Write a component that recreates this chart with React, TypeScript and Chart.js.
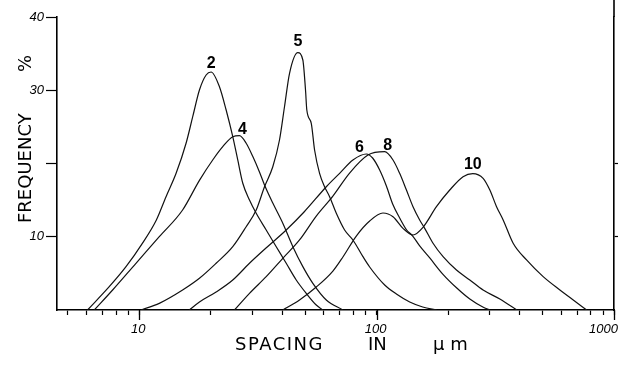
import React, { useEffect, useRef } from 'react';
import { Chart, registerables } from 'chart.js';

Chart.register(...registerables);

// ---- data (spacing in µm, frequency in %) ----
const X2 = [6.05, 7.47, 8.79, 10.3, 11.8, 12.96, 14.29, 15.74, 16.79, 17.92, 19.12, 20.07, 21.76, 23.22, 24.76, 25.99, 27.29, 29.12, 31.08, 34.25, 37.75, 41.59, 45.83, 50.5, 55.66, 59.35];
const Y2 = [0, 3.18, 5.91, 9.1, 12.29, 15.47, 18.66, 22.76, 26.39, 30.03, 32.08, 32.49, 30.48, 27.3, 23.66, 20.48, 17.3, 15.02, 13.2, 10.92, 8.64, 6.38, 4.1, 2.28, 0.68, 0];

const X4 = [6.46, 7.72, 9.68, 12.14, 15.22, 17.92, 20.38, 22.47, 24.76, 26.42, 28.2, 30.08, 32.08, 33.69, 36.51, 40.23, 44.35, 48.87, 53.85, 61.35, 72.08];
const Y4 = [0, 2.73, 6.37, 10.01, 13.65, 17.7, 20.48, 22.3, 23.66, 23.8, 22.76, 20.94, 18.84, 17.07, 14.6, 11.84, 8.65, 5.92, 3.64, 1.37, 0];

const X5 = [10.17, 12.14, 15.22, 17.92, 21.07, 24.76, 28.2, 31.08, 33.69, 36.51, 38.96, 40.9, 42.95, 46.55, 48.87, 50.15, 50.79, 53.03, 54.76, 57.48, 60.34, 63.35, 67.61, 73.28, 79.43, 87.55, 93.44, 108.1, 121.1, 137.8, 156.3, 179.2];
const Y5 = [0, 0.91, 2.73, 4.33, 6.38, 8.64, 11.37, 13.65, 16.83, 19.56, 23.21, 27.75, 32.31, 35.13, 34.13, 30.03, 27.3, 25.49, 21.84, 18.66, 16.83, 15.47, 13.2, 10.92, 9.56, 7.28, 5.87, 3.41, 2.18, 1.09, 0.41, 0];

const X6 = [16.25, 17.92, 21.07, 24.76, 29.12, 34.68, 41.59, 49.67, 61.35, 69.82, 79.43, 90.47, 96.18, 102.97, 109.9, 116.8, 125.0, 133.8, 141.9, 151.8, 167.4, 189.9, 217.6, 246.9, 280.1, 299.9];
const Y6 = [0, 1.09, 2.46, 4.1, 6.38, 8.64, 10.92, 13.45, 16.83, 18.66, 20.48, 21.3, 20.75, 19.11, 16.93, 14.47, 12.56, 10.92, 10.1, 8.74, 7.1, 4.91, 3.0, 1.5, 0.41, 0];

const X8 = [25.17, 29.12, 34.25, 40.23, 47.32, 55.66, 65.41, 76.91, 91.9, 108.1, 117.2, 125.0, 133.5, 142.3, 151.8, 159.4, 172.8, 190.5, 216.9, 246.9, 280.9, 330.4, 389.7];
const Y8 = [0, 2.28, 4.55, 7.06, 9.56, 12.83, 15.56, 18.7, 21.16, 21.61, 20.48, 18.66, 16.38, 14.1, 12.29, 11.15, 9.11, 7.28, 5.46, 4.1, 2.73, 1.5, 0];

const X10 = [40.23, 47.32, 55.66, 65.41, 72.08, 82.07, 93.44, 106.3, 117.2, 129.1, 142.3, 156.8, 178.6, 203.2, 231.2, 254.1, 280.9, 299.9, 320.0, 341.2, 375.9, 428.2, 503.0, 591.7, 673.5, 767.0];
const Y10 = [0, 1.37, 3.14, 5.32, 7.24, 10.1, 12.15, 13.24, 12.74, 11.15, 10.24, 11.29, 14.1, 16.38, 18.2, 18.63, 17.98, 16.38, 14.1, 12.29, 9.11, 6.83, 4.55, 2.73, 1.37, 0];

const SERIES_LABELS = ['2', '4', '5', '6', '8', '10'];
const SERIES_X = [X2, X4, X5, X6, X8, X10];
const SERIES_Y = [Y2, Y4, Y5, Y6, Y8, Y10];

const X_TICKS = [5, 6, 7, 8, 9, 10, 20, 30, 40, 50, 60, 70, 80, 90, 100, 200, 300, 400, 500, 600, 700, 800, 900, 1000];
const X_MAJOR = [10, 100, 1000];
const X_LABELS = ['10', '100', '1000'];
const Y_LABELED = [10, 30, 40];

// label offsets from each curve's peak (pixels) – styling only
const LABEL_OFFSETS: [number, number][] = [[0, -4], [3, -2], [0, -7], [-7, -2], [3, -2], [0, -5]];

const FONT = '"Liberation Sans", Arial, sans-serif';
const TITLE_FONT = '"DejaVu Sans", "Liberation Sans", sans-serif';

const decor = {
  id: 'decor',
  afterDraw(chart: any) {
    const ctx = chart.ctx as CanvasRenderingContext2D;
    const xs = chart.scales.x;
    const ys = chart.scales.y;
    const { top, bottom, right } = chart.chartArea;
    ctx.save();
    ctx.strokeStyle = '#000';
    ctx.fillStyle = '#000';

    // right frame line continues to top of figure
    ctx.lineWidth = 1.6;
    ctx.beginPath();
    ctx.moveTo(Math.round(right), 0);
    ctx.lineTo(Math.round(right), top);
    ctx.stroke();

    // longer major ticks
    ctx.lineWidth = 1.3;
    X_MAJOR.forEach((v) => {
      const px = Math.round(xs.getPixelForValue(v)) + 0.5;
      ctx.beginPath();
      ctx.moveTo(px, bottom);
      ctx.lineTo(px, bottom + 10);
      ctx.stroke();
    });

    // x tick labels
    ctx.font = `italic 13px ${FONT}`;
    ctx.textBaseline = 'alphabetic';
    X_MAJOR.forEach((v, i) => {
      const px = xs.getPixelForValue(v);
      if (i === X_MAJOR.length - 1) {
        ctx.textAlign = 'right';
        ctx.fillText(X_LABELS[i], px + 4, bottom + 23);
      } else {
        ctx.textAlign = 'center';
        ctx.fillText(X_LABELS[i], px - 1, bottom + 23);
      }
    });

    // x axis title
    ctx.font = `18px ${TITLE_FONT}`;
    ctx.textAlign = 'left';
    (ctx as any).letterSpacing = '1.5px';
    ctx.fillText('SPACING', 235, 350);
    (ctx as any).letterSpacing = '0px';
    ctx.fillText('IN', 368, 350);
    ctx.fillText('\u00B5 m', 433, 350);

    // y axis title (rotated)
    ctx.save();
    ctx.translate(31, 223);
    ctx.rotate(-Math.PI / 2);
    ctx.textAlign = 'left';
    ctx.fillText('FREQUENCY', 0, 0);
    ctx.fillText('%', 151, 0);
    ctx.restore();

    // curve labels at peaks
    ctx.font = `bold 16px ${FONT}`;
    ctx.textAlign = 'center';
    SERIES_LABELS.forEach((lab, i) => {
      const yArr = SERIES_Y[i];
      let k = 0;
      yArr.forEach((y, j) => { if (y > yArr[k]) k = j; });
      const px = xs.getPixelForValue(SERIES_X[i][k]) + LABEL_OFFSETS[i][0];
      const py = ys.getPixelForValue(yArr[k]) + LABEL_OFFSETS[i][1];
      ctx.fillText(lab, px, py);
    });

    ctx.restore();
  },
};

export default function App() {
  const ref = useRef<HTMLCanvasElement | null>(null);

  useEffect(() => {
    if (!ref.current) return;
    const datasets = SERIES_LABELS.map((lab, i) => ({
      label: lab,
      data: SERIES_X[i].map((x, j) => ({ x, y: SERIES_Y[i][j] })),
      borderColor: '#111',
      borderWidth: 1.2,
      pointRadius: 0,
      fill: false,
      cubicInterpolationMode: 'monotone' as const,
    }));

    const chart = new Chart(ref.current, {
      type: 'line',
      data: { datasets },
      options: {
        animation: false,
        responsive: true,
        maintainAspectRatio: false,
        layout: { padding: { top: 17, right: 0, left: 0, bottom: 0 } },
        plugins: { legend: { display: false }, tooltip: { enabled: false } },
        scales: {
          x: {
            type: 'logarithmic',
            min: 4.5,
            max: 1000,
            afterBuildTicks: (s: any) => {
              s.ticks = X_TICKS.map((v) => ({ value: v }));
            },
            afterFit: (s: any) => {
              s.height = 57;
              s.paddingLeft = 0;
              s.paddingRight = 0;
            },
            ticks: { display: false },
            grid: {
              display: true,
              drawOnChartArea: false,
              drawTicks: true,
              tickLength: 5,
              tickWidth: 1.2,
              tickColor: '#000',
            },
            border: { display: true, color: '#000', width: 1.6 },
          },
          y: {
            type: 'linear',
            position: 'left',
            min: 0,
            max: 40,
            afterFit: (s: any) => {
              s.width = 57;
            },
            ticks: {
              stepSize: 10,
              padding: 2,
              color: '#000',
              font: { family: FONT, size: 13, style: 'italic' },
              callback: (v: any) => (Y_LABELED.includes(Number(v)) ? String(v) : ''),
            },
            grid: {
              display: true,
              drawOnChartArea: false,
              drawTicks: true,
              tickLength: 11,
              tickWidth: 1.2,
              tickColor: (c: any) => (c.tick && c.tick.value === 0 ? 'rgba(0,0,0,0)' : '#000'),
            },
            border: { display: true, color: '#000', width: 1.6 },
          },
          y2: {
            type: 'linear',
            position: 'right',
            min: 0,
            max: 40,
            afterFit: (s: any) => {
              s.width = 5;
            },
            ticks: { stepSize: 10, display: false },
            grid: {
              display: true,
              drawOnChartArea: false,
              drawTicks: true,
              tickLength: 4,
              tickWidth: 1.2,
              tickColor: (c: any) =>
                c.tick && (c.tick.value === 10 || c.tick.value === 20) ? '#000' : 'rgba(0,0,0,0)',
            },
            border: { display: true, color: '#000', width: 1.6 },
          },
        },
      },
      plugins: [decor],
    });
    return () => chart.destroy();
  }, []);

  return (
    <div style={{ position: 'fixed', left: 0, top: 0, width: 619, height: 367, background: '#fff' }}>
      <canvas ref={ref} />
    </div>
  );
}
